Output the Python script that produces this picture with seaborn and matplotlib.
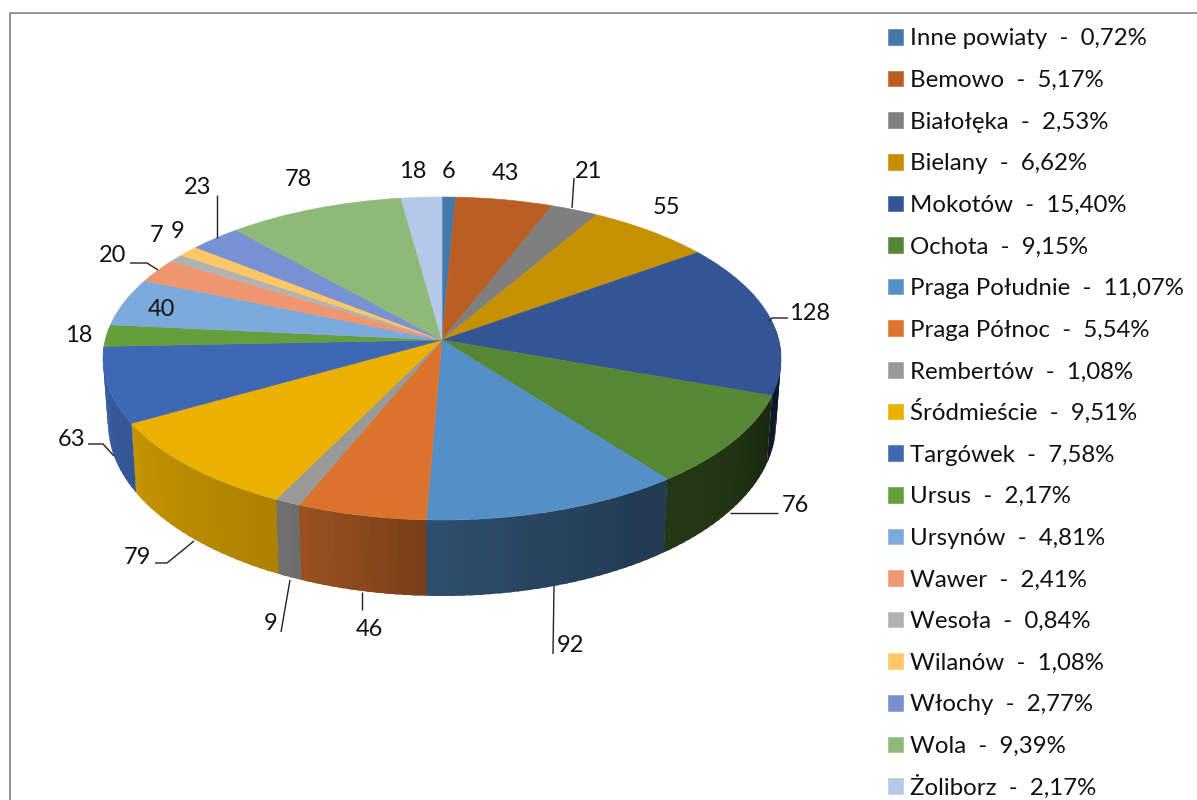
import numpy as np
import matplotlib
matplotlib.use("Agg")
import matplotlib.pyplot as plt
from matplotlib.transforms import Transform, Bbox
from matplotlib.collections import PolyCollection
from matplotlib.offsetbox import TextArea
import seaborn as sns

districts = ["Inne powiaty", "Bemowo", "Białołęka", "Bielany", "Mokotów", "Ochota",
             "Praga Południe", "Praga Północ", "Rembertów", "Śródmieście", "Targówek",
             "Ursus", "Ursynów", "Wawer", "Wesoła", "Wilanów", "Włochy", "Wola", "Żoliborz"]
counts = [6, 43, 21, 55, 128, 76, 92, 46, 9, 79, 63, 18, 40, 20, 7, 9, 23, 78, 18]
colors = ["#4579AB", "#BA5E23", "#7F7F7F", "#C59100", "#335596", "#558734",
          "#5490C8", "#DC732D", "#999999", "#EBB000", "#3E67B4", "#649F3C",
          "#7DAADC", "#F0966E", "#B2B2B2", "#FFC864", "#7891D2", "#8FB978", "#B4C8E8"]

sns.set_theme(style="white")
plt.rcParams["font.family"] = ["Lato", "DejaVu Sans"]
palette = sns.color_palette(colors)

CX, CY, RX, RY, K = 442, 340, 336.8, 159.4, 0.1146
BOT_CY, BOT_SX, BOT_SY = 403.7, 0.985, 1.068


class Perspective(Transform):
    """Maps the unit-circle pie plane to the tilted pie top, in pixel data units."""
    input_dims = output_dims = 2
    is_separable = False
    has_inverse = False

    def transform_non_affine(self, values):
        values = np.asarray(values, dtype=float)
        w = 1 + K * values[:, 1]
        return np.column_stack([CX + RX * values[:, 0] / w, CY - RY * values[:, 1] / w])


fig = plt.figure(figsize=(11.97, 8), dpi=100)
ax = fig.add_axes([0, 0, 1, 1])

wedges, _ = ax.pie(counts, colors=palette, startangle=90, counterclock=False,
                   wedgeprops=dict(linewidth=0.4))
persp = Perspective()
labels = [f"{n}  -  {100 * c / sum(counts):.2f}%".replace(".", ",") for n, c in zip(districts, counts)]
for w, col, lab in zip(wedges, palette, labels):
    w.set_edgecolor(col)
    w.set_transform(persp + ax.transData)
    w.set_zorder(3)
    w.set_label(lab)

ax.set_aspect("auto")
ax.set_xlim(0, 1197)
ax.set_ylim(800, 0)
ax.set_frame_on(False)

# side wall of the disc, shaded according to angle
shade_angle = [95, 105, 130, 150, 183, 205, 245, 270]
shade_value = [0.27, 0.27, 0.40, 0.42, 0.55, 0.73, 0.85, 0.92]
edges = np.cumsum([0] + counts) / sum(counts) * 360


def ring(theta, top=True):
    t = np.radians(theta)
    w = 1 + K * np.cos(t)
    x, y = RX * np.sin(t) / w, RY * np.cos(t) / w
    if top:
        return CX + x, CY - y
    return CX + BOT_SX * x, BOT_CY - BOT_SY * y


polys, fcs = [], []
for a, b, col in zip(edges[:-1], edges[1:], palette):
    a2, b2 = max(a, 85), min(b, 267.7)
    if b2 <= a2:
        continue
    steps = np.linspace(a2, b2, max(2, int((b2 - a2) / 1.5) + 2))
    for s, e in zip(steps[:-1], steps[1:]):
        # every strip overlaps the next one so no seams show between them
        e2 = min(e + 0.8, b2 + 0.1)
        arc = np.linspace(s, e2, 4)
        top = [ring(v) for v in arc]
        bottom = [ring(v, False) for v in arc[::-1]]
        polys.append(top + bottom)
        f = np.interp((s + e) / 2, shade_angle, shade_value)
        fcs.append(tuple(np.array(col) * f))
ax.add_collection(PolyCollection(polys, facecolors=fcs, edgecolors="none", linewidths=0, zorder=2))

# data labels
label_xy = [(449, 171), (505, 173), (589, 171), (666, 208), (810, 314), (795, 506), (570, 646),
            (369, 629), (271, 624), (137, 557), (72, 439), (79, 335), (161, 309), (113, 256),
            (157, 236), (178, 232), (198, 188), (298, 180), (413, 171)]
for (x, y), c in zip(label_xy, counts):
    ax.text(x, y, str(c), ha="center", va="center", fontsize=17, color="#111111", zorder=5)

# leader lines
leaders = [[(574, 178), (572, 208)], [(788, 318), (772, 318), (769, 321)], [(778, 513), (730, 513)],
           [(553, 654), (554, 586)], [(362, 610), (362, 592)], [(281, 632), (290, 580)],
           [(155, 563), (167, 563), (194, 541)], [(88, 444), (103, 444), (114, 456)],
           [(130, 263), (147, 263), (158, 270)], [(217, 195), (217, 238)]]
for pts in leaders:
    xs, ys = zip(*pts)
    ax.plot(xs, ys, color="#222222", lw=1.0, zorder=4, solid_capstyle="butt")

# chart frame
ax.plot([10, 10, 1197], [800, 13, 13], color="#8c8c8c", lw=1.3, zorder=1, clip_on=False)

leg = ax.legend(wedges, labels, loc="upper left", bbox_to_anchor=(888, 26.4), bbox_transform=ax.transData,
                frameon=False, fontsize=17.3, handlelength=0.625, handleheight=0.625,
                handletextpad=0.29, labelspacing=0.775, borderaxespad=0, borderpad=0)
for t in leg.get_texts():
    t.set_color("#111111")


# accented capitals (Ś, Ż) must not stretch their legend rows: all rows get one height
def fixed_height(area, height=23.0):
    original = area.get_bbox

    def get_bbox(renderer):
        box = original(renderer)
        return Bbox.from_extents(box.x0, box.y0, box.x1, box.y0 + height)
    area.get_bbox = get_bbox


for area in leg.findobj(TextArea):
    fixed_height(area)

fig.savefig("out.png", dpi=100)
